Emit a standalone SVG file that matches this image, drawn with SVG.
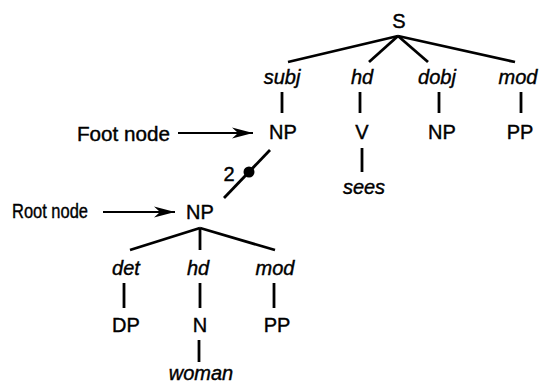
<svg xmlns="http://www.w3.org/2000/svg" width="540" height="386" viewBox="0 0 540 386">
<style>
.t{font-family:"Liberation Sans",Arial,sans-serif;font-size:20px;fill:#000;stroke:#000;stroke-width:0.4;text-anchor:middle}
.i{font-family:"Liberation Sans",Arial,sans-serif;font-size:20px;font-style:italic;fill:#000;stroke:#000;stroke-width:0.4;text-anchor:middle}
.l{font-family:"Liberation Sans",Arial,sans-serif;font-size:20px;fill:#000;stroke:#000;stroke-width:0.4}
.e{stroke:#000;stroke-width:2.8;fill:none;stroke-linecap:butt}
.a{stroke:#000;stroke-width:2.2;fill:none}
</style>
<defs>
<marker id="ah" markerUnits="userSpaceOnUse" markerWidth="24" markerHeight="14" viewBox="-22 -7 24 14" refX="0" refY="0" orient="auto">
<path d="M0,0 L-21,-5.5 L-15,0 L-21,5.5 Z" fill="#000"/>
</marker>
</defs>
<g id="connectors">
<line class="e" x1="398" y1="36" x2="288" y2="62"/>
<line class="e" x1="398" y1="36" x2="369" y2="62"/>
<line class="e" x1="398" y1="36" x2="428" y2="62"/>
<line class="e" x1="398" y1="36" x2="515" y2="62"/>
<line class="e" x1="282" y1="92" x2="282" y2="113"/>
<line class="e" x1="360" y1="92" x2="360" y2="113"/>
<line class="e" x1="439" y1="92" x2="439" y2="113"/>
<line class="e" x1="521" y1="92" x2="521" y2="113"/>
<line class="e" x1="362" y1="148" x2="362" y2="172"/>
<line class="e" x1="270" y1="150" x2="224" y2="198"/>
<circle cx="249" cy="172" r="5.5" fill="#000"/>
<line class="e" x1="200" y1="228" x2="130" y2="250"/>
<line class="e" x1="200" y1="228" x2="200" y2="250"/>
<line class="e" x1="200" y1="228" x2="275" y2="250"/>
<line class="e" x1="124" y1="283" x2="124" y2="308"/>
<line class="e" x1="200" y1="283" x2="200" y2="308"/>
<line class="e" x1="274" y1="283" x2="274" y2="308"/>
<line class="e" x1="199" y1="340" x2="199" y2="362"/>
<line class="a" x1="178" y1="133" x2="253" y2="133" marker-end="url(#ah)"/>
<line class="a" x1="103" y1="212" x2="175" y2="212" marker-end="url(#ah)"/>
</g>
<g id="S"><text class="t" x="399" y="28">S</text></g>
<g id="subj"><text class="i" x="282" y="84">subj</text></g>
<g id="hd1"><text class="i" x="362" y="84">hd</text></g>
<g id="dobj"><text class="i" x="437" y="84">dobj</text></g>
<g id="mod1"><text class="i" x="518" y="84">mod</text></g>
<g id="NPfoot"><text class="t" x="283" y="139">NP</text></g>
<g id="V"><text class="t" x="362" y="139">V</text></g>
<g id="NPobj"><text class="t" x="442" y="139">NP</text></g>
<g id="PP1"><text class="t" x="520" y="139">PP</text></g>
<g id="sees"><text class="i" x="364" y="194">sees</text></g>
<g id="footlabel"><text class="l" x="77" y="141" textLength="93" lengthAdjust="spacingAndGlyphs">Foot node</text></g>
<g id="rootlabel"><text class="l" x="12" y="218" textLength="76" lengthAdjust="spacingAndGlyphs">Root node</text></g>
<g id="two"><text class="t" x="229" y="181">2</text></g>
<g id="NProot"><text class="t" x="200" y="219">NP</text></g>
<g id="det"><text class="i" x="126" y="275">det</text></g>
<g id="hd2"><text class="i" x="198" y="275">hd</text></g>
<g id="mod2"><text class="i" x="275" y="275">mod</text></g>
<g id="DP"><text class="t" x="126" y="332">DP</text></g>
<g id="N"><text class="t" x="200" y="332">N</text></g>
<g id="PP2"><text class="t" x="277" y="332">PP</text></g>
<g id="woman"><text class="i" x="201" y="380">woman</text></g>
</svg>
